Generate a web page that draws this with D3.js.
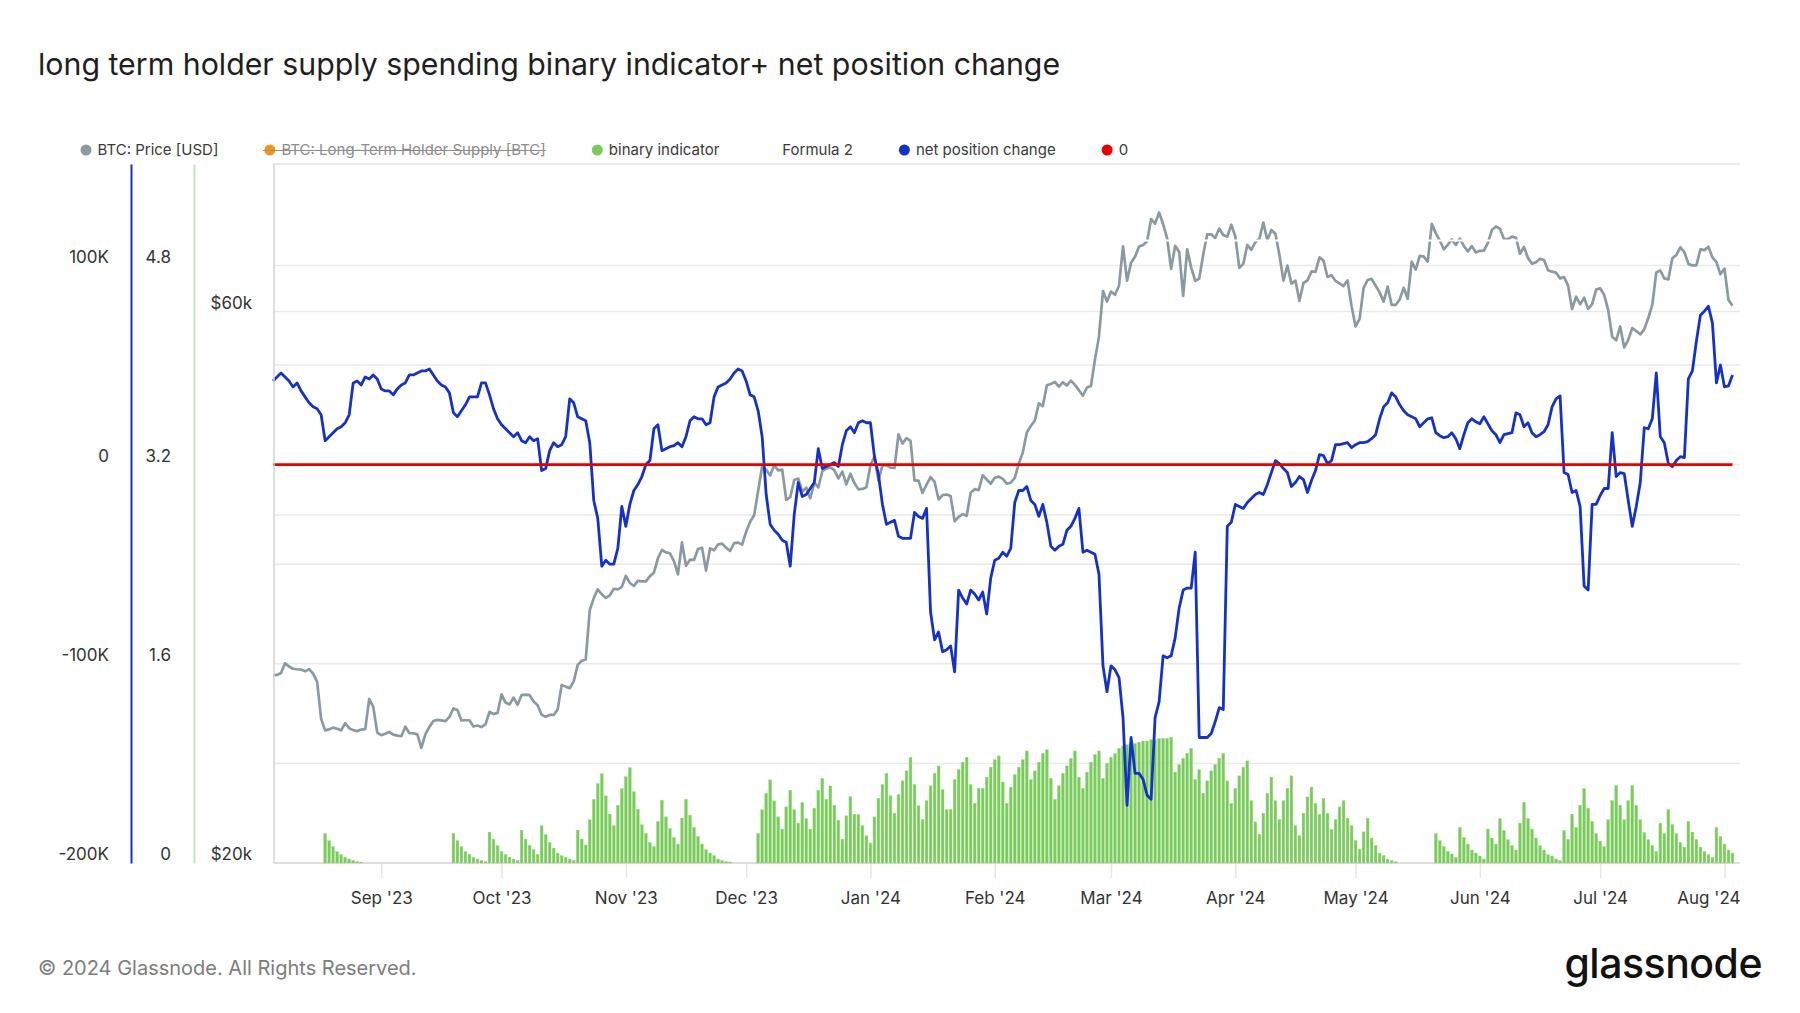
<!DOCTYPE html>
<html>
<head>
<meta charset="utf-8">
<script src="https://cdn.jsdelivr.net/npm/d3@7"></script>
<style>
  html, body { margin: 0; padding: 0; background: #fff; }
  svg { display: block; font-family: Inter, "Noto Sans", sans-serif; }
</style>
</head>
<body>
<svg id="chart" width="1800" height="1013"></svg>
<script>
// daily series, first value = 2023-08-05
const startDate = "2023-08-05";

// BTC price, USD (log axis)
const btcPrice = [
  // Aug 5-31
  29060, 29090, 29200, 29770, 29580, 29450, 29420, 29400, 29300, 29430, 29170, 28700, 26660, 26050,
  26100, 26190, 26130, 26050, 26430, 26160, 26060, 26010, 26090, 26110, 27730, 27300, 25930,
  // Sep
  25800, 25870, 25970, 25830, 25780, 25750, 26240, 25910, 25900, 25840, 25160, 25840, 26230, 26540, 26600,
  26570, 26530, 26760, 27210, 27130, 26570, 26580, 26580, 26250, 26300, 26220, 26370, 27020, 26910, 26970,
  // Oct
  27980, 27530, 27430, 27800, 27410, 27950, 27970, 27940, 27590, 27390, 26870, 26760, 26860, 26860, 27160,
  28520, 28420, 28330, 28720, 29680, 29920, 30000, 33090, 33900, 34500, 34160, 33910, 34090, 34540, 34500, 34670,
  // Nov
  35440, 34940, 34730, 35080, 35050, 35050, 35420, 35660, 36700, 37310, 37130, 37070, 36490, 35550, 37880,
  36160, 36600, 36580, 37390, 37480, 35810, 37430, 37290, 37720, 37790, 37480, 37250, 37830, 37860, 37710,
  // Dec
  38690, 39470, 39980, 41980, 44080, 43770, 43290, 44170, 43720, 43790, 41240, 41450, 42890, 43020, 41930,
  42240, 41360, 42660, 42260, 43650, 43870, 43990, 43740, 43020, 43610, 42520, 43440, 42630, 42100, 42140, 42280,
  // Jan
  44180, 44950, 42850, 44180, 44160, 43970, 43930, 46970, 46130, 46630, 46370, 42850, 42840, 41800, 42510,
  43150, 42740, 41260, 41620, 41670, 41550, 39510, 39850, 40080, 39930, 41820, 42120, 42030, 43300, 42940, 42580,
  // Feb
  43080, 43180, 42990, 42580, 42660, 43080, 44320, 45300, 47150, 47770, 48290, 49960, 49700, 51800, 51940,
  52160, 51660, 52120, 51780, 52280, 51840, 51300, 50730, 51570, 51730, 54520, 57090, 62500, 61200,
  // Mar
  62440, 62030, 63170, 68330, 63800, 66110, 66930, 68300, 68500, 69020, 72120, 71480, 73080, 71400, 69400,
  65320, 68390, 67550, 61910, 67910, 65490, 63780, 64060, 67230, 69960, 69990, 69460, 70780, 69890, 69650, 71330,
  // Apr
  69700, 65450, 65980, 68510, 67840, 68900, 69360, 71630, 69140, 70590, 70060, 67200, 63820, 65740, 63430,
  63810, 61280, 63510, 63840, 64990, 64930, 66840, 66410, 64280, 64500, 63770, 63460, 63120, 63840, 60640,
  // May
  58250, 59120, 62890, 63890, 64030, 63160, 62330, 61190, 63050, 60790, 60790, 61450, 62900, 61550, 66270,
  65230, 67050, 66940, 66280, 71450, 70140, 69120, 67930, 68530, 69270, 68510, 69390, 68370, 67640, 68350, 67490,
  // Jun
  67710, 67750, 68800, 70570, 71080, 70760, 69340, 69310, 69650, 69500, 67320, 68240, 66760, 66010, 66190,
  66640, 66490, 65140, 64960, 64830, 64100, 64260, 63180, 60280, 61800, 60860, 61670, 60320, 60890, 62680,
  // Jul
  62850, 62030, 60200, 57060, 56660, 58240, 55860, 56710, 58050, 57720, 57340, 57900, 59230, 60790, 64870,
  65100, 64100, 63970, 66710, 67160, 68190, 67550, 65970, 65780, 65790, 67910, 67810, 68260, 66820, 66200, 64620,
  // Aug 1-3
  65360, 61410, 60700
];

// net position change, thousands of BTC
const netPositionK = [
  42, 44, 46, 44, 42, 39, 41, 37, 34, 31,
  29, 28, 25, 12, 14, 16, 18, 19, 21, 25,
  41, 42, 40, 44, 43, 45, 43, 38, 37, 37,
  35, 38, 40, 41, 45, 45, 46, 47, 47, 48,
  45, 42, 40, 39, 36, 26, 24, 27, 30, 34,
  34, 34, 41, 41, 35, 28, 23, 20, 18, 16,
  14, 16, 12, 11, 14, 12, 13, -3, -2, 7,
  11, 9, 10, 14, 33, 31, 24, 23, 22, 11,
  -18, -27, -51, -48, -50, -50, -42, -21, -31, -20,
  -13, -10, -6, 0, 2, 18, 20, 7, 8, 9,
  9.5, 11, 9, 14, 22, 24, 23, 23, 20, 21,
  34, 39, 40, 41, 43, 46, 48, 47, 42, 35,
  34, 27, 14, -15, -30, -33, -35, -38, -39, -51,
  -25, -9, -16, -15, -12, -9, 8, -2, -1, 0,
  1, -1, 10, 17, 19, 16, 21, 22, 21, 21,
  4, -5, -20, -30, -29, -28, -36, -37, -37, -37,
  -24, -26, -27, -22, -74, -88, -84, -94, -93, -91,
  -104, -63, -67, -70, -63, -65, -68, -64, -75, -57,
  -48, -47, -44, -46, -42, -19, -13, -13, -11, -18,
  -20, -26, -20, -29, -41, -43, -41, -40, -33, -31,
  -27, -22, -44, -43, -44, -45, -55, -101, -114, -101,
  -103, -107, -127, -171, -137, -155, -155, -158, -166, -168,
  -127, -119, -96, -97, -96, -87, -72, -63, -62, -62,
  -44, -137, -137, -137, -135, -129, -122, -123, -31, -29,
  -20, -21, -22, -19, -17, -15, -14, -15, -10, -4,
  2, 0.5, -2, -4, -11, -9, -6, -7.5, -14, -8,
  -3, 5, 4.5, 0.5, 2, 10, 10, 10.5, 11, 8.5,
  10, 11, 11, 11.5, 13, 15, 23, 29, 31, 36,
  34, 30, 27, 25, 24, 23, 19, 21, 23, 23.5,
  16, 14.5, 13.5, 14, 16, 13, 8, 15, 21, 23,
  21.5, 20.5, 24, 20.5, 17, 15, 11, 15, 15.5, 16,
  26, 25, 19, 21, 16, 14, 15, 16.5, 20, 29,
  33, 34.5, -4, -5, -14, -13, -21, -61, -63, -20,
  -20, -15.5, -12, -12, 16, -6, -4, -4.5, -18, -31,
  -21, -9, 18.5, 18, 23, 46, 14, 11, 0.5, -1,
  2, 4, 3.5, 43, 47, 62, 75, 77, 79.5, 71,
  41, 50, 39, 39.5, 45
];

// binary indicator (bars)
const binaryIndicator = [
  0, 0, 0, 0, 0, 0, 0, 0, 0, 0, 0, 0, 0,
  0.237, 0.179, 0.131, 0.091, 0.069, 0.045, 0.032, 0.021, 0.011, 0.008,
  0, 0, 0, 0, 0, 0, 0, 0, 0, 0, 0, 0, 0, 0, 0, 0, 0, 0, 0, 0, 0, 0,
  0.237, 0.179, 0.131, 0.091, 0.069, 0.045, 0.032, 0.021, 0.011,
  0.248, 0.192, 0.141, 0.093, 0.069, 0.048, 0.032, 0.021,
  0.264, 0.192, 0.144, 0.107, 0.069,
  0.299, 0.227, 0.165, 0.12, 0.08, 0.059, 0.045, 0.032, 0.021,
  0.264, 0.192, 0.144,
  0.347, 0.512, 0.637, 0.717, 0.539, 0.392, 0.299,
  0.464, 0.597, 0.693, 0.765, 0.573, 0.432, 0.307, 0.237, 0.165, 0.131,
  0.333, 0.504, 0.371, 0.277, 0.205, 0.152,
  0.36, 0.512, 0.384, 0.285, 0.213, 0.152, 0.107, 0.08, 0.059, 0.032, 0.021, 0.011, 0.008,
  0, 0, 0, 0, 0, 0,
  0.237, 0.427, 0.56, 0.667, 0.499, 0.371, 0.272, 0.451, 0.584, 0.429, 0.32, 0.485, 0.357,
  0.272, 0.44, 0.584, 0.68, 0.512, 0.619, 0.464, 0.344, 0.192, 0.379, 0.533, 0.392,
  0.39, 0.30, 0.22, 0.16, 0.37, 0.52, 0.63, 0.72, 0.54, 0.40,
  0.55, 0.66, 0.74, 0.85, 0.63, 0.46, 0.35, 0.50, 0.62, 0.72,
  0.78, 0.59, 0.43, 0.43, 0.67, 0.75, 0.81, 0.85, 0.63, 0.48,
  0.60, 0.60, 0.69, 0.77, 0.83, 0.86, 0.65, 0.48, 0.61, 0.71,
  0.77, 0.83, 0.90, 0.67, 0.74, 0.81, 0.88, 0.91, 0.68, 0.51,
  0.62, 0.72, 0.78, 0.84, 0.90, 0.69, 0.60, 0.73, 0.81, 0.87,
  0.90, 0.68, 0.80, 0.85, 0.88, 0.92, 0.94, 0.95, 0.96, 0.96,
  0.97, 0.98, 0.98, 0.99, 0.99, 1.00, 1.00, 1.00, 1.01, 0.73,
  0.79, 0.84, 0.88, 0.92, 0.67, 0.75, 0.56, 0.66, 0.74, 0.79,
  0.84, 0.88, 0.66, 0.48, 0.60, 0.70, 0.77, 0.82, 0.50, 0.33,
  0.23, 0.40, 0.56, 0.69, 0.50, 0.35, 0.50, 0.60, 0.70, 0.30,
  0.22, 0.40, 0.53, 0.61, 0.48, 0.39, 0.52, 0.40, 0.27, 0.35,
  0.45, 0.50, 0.36, 0.30, 0.18, 0.11, 0.25, 0.36, 0.20, 0.14,
  0.08, 0.06, 0.03, 0.02, 0.01,
  0, 0, 0, 0, 0, 0, 0, 0, 0,
  0.237, 0.179, 0.131, 0.093, 0.072, 0.045, 0.285, 0.203, 0.152, 0.104,
  0.08, 0.056, 0.032, 0.272, 0.2, 0.152, 0.357, 0.261, 0.187, 0.139,
  0.104, 0.32, 0.488, 0.357, 0.272, 0.2, 0.139, 0.104, 0.067, 0.056,
  0.032, 0.019, 0.261, 0.189, 0.392, 0.285, 0.464, 0.597, 0.44, 0.333,
  0.237, 0.176, 0.131, 0.347, 0.501, 0.621, 0.464, 0.347, 0.501, 0.621,
  0.464, 0.347, 0.245, 0.187, 0.141, 0.093, 0.32, 0.237, 0.429, 0.309,
  0.237, 0.165, 0.128, 0.333, 0.248, 0.189, 0.128, 0.093, 0.067, 0.045,
  0.285, 0.213, 0.152, 0.104, 0.08
];

const formula2Level = 5;   // drawn in white
const zeroLevel = 0;

const netTicks = [-200, -100, 0, 100];
const binaryGridTicks = [0.8, 2.4, 4.0];
const binaryLabelTicks = [0, 1.6, 3.2, 4.8];
const priceGridTicks = [40000, 60000];
const priceLabelTicks = [20000, 60000];

const legendItems = [
  { name: "BTC: Price [USD]", color: "#8a9aa2", off: false },
  { name: "BTC: Long-Term Holder Supply [BTC]", color: "#f7931a", off: true },
  { name: "binary indicator", color: "#7bcb5c", off: false },
  { name: "Formula 2", color: "#ffffff", off: false },
  { name: "net position change", color: "#1632c4", off: false },
  { name: "0", color: "#e60000", off: false }
];

const titleText = "long term holder supply spending binary indicator+ net position change";
const footerText = "\u00a9 2024 Glassnode. All Rights Reserved.";

// ---------------------------------------------------------------
const svg = d3.select("#chart");
const area = { left: 274, right: 1740, top: 164, bottom: 863 };

const parseDate = d3.timeParse("%Y-%m-%d");
const n = Math.min(btcPrice.length, netPositionK.length, binaryIndicator.length);
const rows = d3.range(n).map(i => ({
  date: d3.timeDay.offset(parseDate(startDate), i),
  price: btcPrice[i],
  net: netPositionK[i],
  bin: binaryIndicator[i]
}));

// scales
const x = d3.scaleTime()
  .domain([parseDate("2023-08-05"), parseDate("2024-08-05")])
  .range([273, 1740.5]);
const yNet = d3.scaleLinear().domain([-200, 150.9]).range([area.bottom, area.top]);
const yBin = d3.scaleLinear().domain([0, 5.614]).range([area.bottom, area.top]);
const yPrice = d3.scaleLog().domain([20000, 80500]).range([area.bottom, area.top]);

svg.append("rect").attr("width", 1800).attr("height", 1013).attr("fill", "#fff");

// title
svg.append("text")
  .attr("x", 38).attr("y", 64).attr("dy", "0.35em")
  .attr("font-size", 30.3).attr("fill", "#1f1f1f")
  .text(titleText);

// legend
const legendY = 150;
let lx = 86;
legendItems.forEach(item => {
  const g = svg.append("g");
  g.append("circle").attr("cx", lx).attr("cy", legendY).attr("r", 5.5).attr("fill", item.color);
  const t = g.append("text")
    .attr("x", lx + 11.5).attr("y", legendY).attr("dy", "0.35em")
    .attr("font-size", 15)
    .attr("fill", item.off ? "#8d8d8d" : "#3a3a3a")
    .text(item.name);
  const w = t.node().getComputedTextLength();
  if (item.off) {
    g.append("line")
      .attr("x1", lx - 7).attr("x2", lx + 11.5 + w)
      .attr("y1", legendY + 0.5).attr("y2", legendY + 0.5)
      .attr("stroke", "#8d8d8d").attr("stroke-width", 1.2);
  }
  lx = lx + 11.5 + w + 51.5;
});

// grid lines
const gridYs = []
  .concat(netTicks.filter(v => v > -200).map(v => yNet(v)))
  .concat(binaryGridTicks.map(v => yBin(v)))
  .concat(priceGridTicks.map(v => yPrice(v)));
svg.append("g").selectAll("line")
  .data(gridYs)
  .enter().append("line")
  .attr("x1", area.left).attr("x2", area.right)
  .attr("y1", d => d).attr("y2", d => d)
  .attr("stroke", "#e9e9e9").attr("stroke-width", 1.5);

// frame (top, bottom)
svg.append("line").attr("x1", area.left).attr("x2", area.right)
  .attr("y1", area.top).attr("y2", area.top)
  .attr("stroke", "#e3e3e3").attr("stroke-width", 1.5);
svg.append("line").attr("x1", area.left).attr("x2", area.right)
  .attr("y1", area.bottom).attr("y2", area.bottom)
  .attr("stroke", "#d3d3d3").attr("stroke-width", 1.5);

// y axes
function drawYAxis(xPos, scale, ticks, format, padding, lineColor) {
  const axis = d3.axisLeft(scale)
    .tickValues(ticks).tickFormat(format)
    .tickSize(0).tickSizeOuter(0).tickPadding(padding);
  const g = svg.append("g")
    .attr("transform", `translate(${xPos},0)`)
    .call(axis)
    .attr("font-family", null).attr("font-size", 17);
  g.select(".domain")
    .attr("stroke", lineColor || "none").attr("stroke-width", 2);
  g.selectAll(".tick text").attr("y", -8.5).attr("fill", "#333");
  return g;
}

drawYAxis(131, yNet, netTicks, d => d === 0 ? "0" : d + "K", 22, "#1632c4");
drawYAxis(194, yBin, binaryLabelTicks, d => d === 0 ? "0" : d3.format(".1f")(d), 23, "#c4e8b6");
drawYAxis(area.left, yPrice, priceLabelTicks, d => "$" + (d / 1000) + "k", 22, null);

// x axis
const xAxis = d3.axisBottom(x)
  .ticks(d3.timeMonth.every(1))
  .tickFormat(d3.timeFormat("%b '%y"))
  .tickSize(14).tickSizeOuter(0).tickPadding(14);
const gx = svg.append("g")
  .attr("transform", `translate(0,${area.bottom + 1})`)
  .call(xAxis)
  .attr("font-family", null).attr("font-size", 17);
gx.select(".domain").remove();
gx.selectAll(".tick line").attr("stroke", "#e6e6e6").attr("stroke-width", 1.5);
gx.selectAll(".tick text").attr("fill", "#333");
// keep the last label inside the plot
gx.selectAll(".tick").each(function (d) {
  const t = d3.select(this).select("text");
  const w = t.node().getComputedTextLength();
  const right = x(d) + w / 2;
  if (right > area.right) t.attr("x", area.right - right);
});

// bars: binary indicator
svg.append("g").selectAll("rect")
  .data(rows.filter(d => d.bin > 0))
  .enter().append("rect")
  .attr("x", d => x(d.date) - 1.4)
  .attr("width", 2.8)
  .attr("y", d => yBin(d.bin))
  .attr("height", d => area.bottom - yBin(d.bin))
  .attr("fill", "#7bcb5c")
  .attr("stroke", "#9ad985").attr("stroke-width", 0.4);

// price line
svg.append("path")
  .datum(rows)
  .attr("fill", "none")
  .attr("stroke", "#8a9aa2").attr("stroke-width", 2.7)
  .attr("stroke-linejoin", "round")
  .attr("d", d3.line().x(d => x(d.date)).y(d => yPrice(d.price)));

// Formula 2: white line
svg.append("path")
  .datum(rows)
  .attr("fill", "none")
  .attr("stroke", "#ffffff").attr("stroke-width", 2)
  .attr("d", d3.line().x(d => x(d.date)).y(() => yBin(formula2Level)));

// net position change
svg.append("path")
  .datum(rows)
  .attr("fill", "none")
  .attr("stroke", "#1632c4").attr("stroke-width", 2.8)
  .attr("stroke-linejoin", "round")
  .attr("d", d3.line().x(d => x(d.date)).y(d => yNet(d.net)));

// zero line
svg.append("path")
  .datum(rows)
  .attr("fill", "none")
  .attr("stroke", "#e60000").attr("stroke-width", 2.8)
  .attr("d", d3.line().x(d => x(d.date)).y(() => yNet(zeroLevel)));

// left frame on top of the series
svg.append("line").attr("x1", area.left).attr("x2", area.left)
  .attr("y1", area.top).attr("y2", area.bottom)
  .attr("stroke", "#cfd4d6").attr("stroke-width", 1.5);

// footer
svg.append("text")
  .attr("x", 38).attr("y", 968).attr("dy", "0.35em")
  .attr("font-size", 20).attr("fill", "#7d7d7d")
  .text(footerText);
svg.append("text")
  .attr("x", 1762).attr("y", 978)
  .attr("text-anchor", "end")
  .attr("font-size", 41).attr("font-weight", 500).attr("fill", "#111")
  .attr("letter-spacing", -0.5)
  .text("glassnode");
</script>
</body>
</html>
